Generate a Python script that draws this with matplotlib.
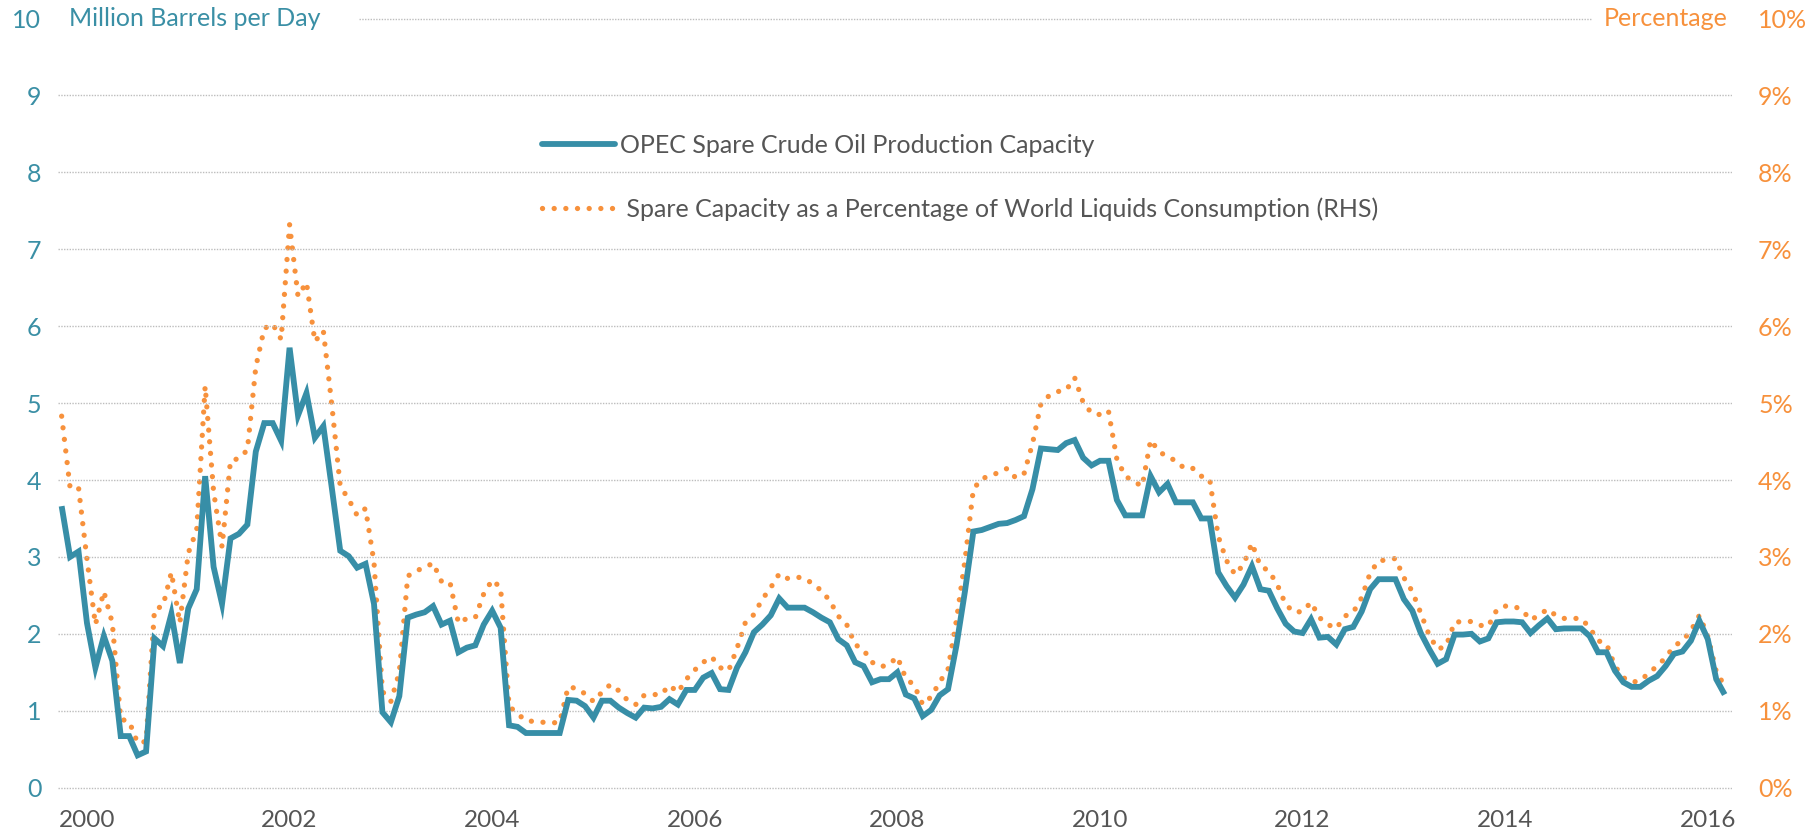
import matplotlib
matplotlib.use("Agg")
import matplotlib.pyplot as plt
from matplotlib.lines import Line2D
import numpy as np
import pandas as pd

# ---------------- data (monthly, Oct 1999 - Mar 2016) ----------------
start_month = "1999-10-01"
spare_capacity_mbd = [
    3.66, 3.00, 3.07,                                                  # 1999 Q4
    2.14, 1.56, 1.97, 1.65, 0.67, 0.67, 0.42, 0.47, 1.94, 1.84, 2.26, 1.62,  # 2000
    2.33, 2.58, 4.05, 2.87, 2.39, 3.24, 3.30, 3.42, 4.37, 4.74, 4.74, 4.51,  # 2001
    5.72, 4.84, 5.13, 4.55, 4.70, 3.90, 3.08, 3.01, 2.86, 2.91, 2.39, 0.98,  # 2002
    0.85, 1.19, 2.21, 2.25, 2.28, 2.36, 2.12, 2.17, 1.76, 1.82, 1.85, 2.12,  # 2003
    2.30, 2.08, 0.81, 0.79, 0.71, 0.71, 0.71, 0.71, 0.71, 1.14, 1.13, 1.06,  # 2004
    0.91, 1.13, 1.13, 1.04, 0.97, 0.91, 1.04, 1.03, 1.05, 1.15, 1.08, 1.27,  # 2005
    1.27, 1.43, 1.49, 1.28, 1.27, 1.56, 1.76, 2.02, 2.12, 2.24, 2.46, 2.34,  # 2006
    2.34, 2.34, 2.28, 2.21, 2.15, 1.93, 1.85, 1.63, 1.58, 1.37, 1.41, 1.41,  # 2007
    1.50, 1.21, 1.16, 0.93, 1.01, 1.20, 1.28, 1.85, 2.55, 3.33, 3.35, 3.39,  # 2008
    3.43, 3.44, 3.48, 3.53, 3.88, 4.41, 4.40, 4.39, 4.48, 4.52, 4.29, 4.19,  # 2009
    4.25, 4.25, 3.74, 3.54, 3.54, 3.54, 4.05, 3.84, 3.95, 3.71, 3.71, 3.71,  # 2010
    3.50, 3.50, 2.80, 2.62, 2.47, 2.64, 2.88, 2.58, 2.56, 2.33, 2.13, 2.03,  # 2011
    2.01, 2.19, 1.95, 1.96, 1.86, 2.06, 2.09, 2.29, 2.58, 2.71, 2.71, 2.71,  # 2012
    2.45, 2.30, 2.01, 1.80, 1.61, 1.67, 1.99, 1.99, 2.00, 1.90, 1.94, 2.15,  # 2013
    2.16, 2.16, 2.15, 2.01, 2.11, 2.20, 2.06, 2.07, 2.07, 2.07, 1.97, 1.76,  # 2014
    1.76, 1.52, 1.37, 1.31, 1.31, 1.39, 1.45, 1.58, 1.74, 1.77, 1.91, 2.17,  # 2015
    1.93, 1.41, 1.21,                                                  # 2016
]
spare_pct_world = [
    4.83, 3.90, 3.90,
    2.97, 2.12, 2.55, 2.14, 0.89, 0.86, 0.58, 0.60, 2.32, 2.36, 2.80, 2.14,
    3.05, 3.35, 5.22, 3.85, 3.13, 4.25, 4.28, 4.39, 5.47, 5.97, 6.03, 5.83,
    7.32, 6.39, 6.57, 5.80, 5.94, 4.98, 3.92, 3.75, 3.54, 3.63, 2.93, 1.25,
    1.12, 1.50, 2.75, 2.82, 2.86, 2.92, 2.68, 2.67, 2.14, 2.20, 2.21, 2.52,
    2.70, 2.60, 1.06, 0.96, 0.87, 0.86, 0.85, 0.84, 0.85, 1.31, 1.29, 1.22,
    1.12, 1.24, 1.34, 1.26, 1.14, 1.08, 1.20, 1.21, 1.21, 1.33, 1.24, 1.41,
    1.53, 1.63, 1.70, 1.56, 1.52, 1.81, 2.15, 2.25, 2.45, 2.60, 2.78, 2.72,
    2.74, 2.72, 2.65, 2.56, 2.43, 2.23, 2.12, 1.86, 1.79, 1.63, 1.57, 1.60,
    1.70, 1.42, 1.33, 1.08, 1.18, 1.37, 1.54, 2.18, 2.95, 3.88, 4.02, 4.05,
    4.10, 4.15, 4.03, 4.08, 4.47, 4.99, 5.10, 5.15, 5.17, 5.33, 5.01, 4.87,
    4.85, 4.90, 4.27, 4.05, 3.98, 3.92, 4.52, 4.37, 4.30, 4.25, 4.15, 4.15,
    4.05, 4.01, 3.27, 2.95, 2.77, 2.90, 3.18, 2.88, 2.82, 2.64, 2.38, 2.28,
    2.29, 2.41, 2.21, 2.12, 2.07, 2.23, 2.28, 2.47, 2.79, 2.95, 2.96, 2.98,
    2.73, 2.55, 2.27, 1.98, 1.80, 1.84, 2.15, 2.16, 2.16, 2.11, 2.10, 2.31,
    2.36, 2.36, 2.31, 2.18, 2.24, 2.32, 2.24, 2.20, 2.20, 2.20, 2.08, 1.91,
    1.87, 1.58, 1.43, 1.37, 1.39, 1.49, 1.58, 1.69, 1.84, 1.91, 2.04, 2.24,
    1.97, 1.51, 1.32,
]
year_ticks = [2000, 2002, 2004, 2006, 2008, 2010, 2012, 2014, 2016]
left_ticks = list(range(0, 11))
right_tick_labels = [f"{v}%" for v in range(0, 11)]
series_labels = ["OPEC Spare Crude Oil Production Capacity",
                 " Spare Capacity as a Percentage of World Liquids Consumption (RHS)"]
left_title = "Million Barrels per Day"
right_title = "Percentage"

# ---------------- style ----------------
BLUE = "#378EA7"
TEAL_TXT = "#3A8FA5"
ORANGE = "#F7913C"
GRAY_TXT = "#555555"
GRID = "#BDBDBD"
FONT = "Lato"
FS = 18

plt.rcParams["font.family"] = [FONT, "DejaVu Sans"]

dates = pd.date_range(start_month, periods=len(spare_capacity_mbd), freq="MS")
x = dates.year + (dates.month - 1) / 12.0

W, H = 1816, 831
fig = plt.figure(figsize=(W / 100, H / 100), dpi=100)
fig.patch.set_facecolor("white")

left_px, right_px = 58, 1731.7
bottom_px, top_px = 795.3, 10.9
ax = fig.add_axes([left_px / W, 1 - bottom_px / H,
                   (right_px - left_px) / W, (bottom_px - top_px) / H])
ax2 = ax.twinx()

ax.set_xlim(1999.714, 2016.236)
ax.set_ylim(-0.1, 10.1)
ax2.set_ylim(-0.1, 10.1)

for a in (ax, ax2):
    for s in a.spines.values():
        s.set_visible(False)
ax.patch.set_visible(False)

# grid
ax.set_yticks(left_ticks)
ax.set_yticklabels([str(v) for v in left_ticks])
ax.yaxis.grid(True, color=GRID, linestyle=(0, (1, 1)), linewidth=1.0)
ax.xaxis.grid(False)
ax.set_axisbelow(True)
ax.get_ygridlines()[-1].set_visible(False)
ax.axhline(10, xmin=(359 - left_px) / (right_px - left_px),
           xmax=(1592 - left_px) / (right_px - left_px),
           color=GRID, linestyle=(0, (1, 1)), linewidth=1.0, zorder=0)

ax.tick_params(axis="y", length=0, pad=12, labelsize=FS, labelcolor=TEAL_TXT)
ax2.set_yticks(left_ticks)
ax2.set_yticklabels(right_tick_labels)
ax2.tick_params(axis="y", length=0, pad=19, labelsize=FS, labelcolor=ORANGE)

ax.set_xticks(year_ticks)
ax.set_xticklabels([str(y) for y in year_ticks])
ax.tick_params(axis="x", length=0, pad=10.5, labelsize=FS - 0.5, labelcolor=GRAY_TXT)

# series
DOT_LW = 3.8
DOT_STYLE = (0, (0.01, 2.2))
l2, = ax2.plot(x, spare_pct_world, color=ORANGE, linewidth=DOT_LW,
               linestyle=DOT_STYLE, dash_capstyle="round", zorder=2)
l1, = ax.plot(x, spare_capacity_mbd, color=BLUE, linewidth=4.2,
              solid_joinstyle="miter", solid_capstyle="butt", zorder=3)
ax.set_zorder(2)

# axis titles
fig.text(69 / W, 1 - 18.5 / H, left_title, color=TEAL_TXT, fontsize=FS,
         ha="left", va="center")
fig.text(1728 / W, 1 - 18.5 / H, right_title, color=ORANGE, fontsize=FS,
         ha="right", va="center")

# legend
h1 = Line2D([], [], color=BLUE, linewidth=4.2, solid_capstyle="round")
h2 = Line2D([], [], color=ORANGE, linewidth=DOT_LW, linestyle=DOT_STYLE,
            dash_capstyle="round")
leg = ax.legend([h1, h2], series_labels, loc="upper left",
                bbox_to_anchor=(542 / W, 1 - 134 / H), bbox_transform=fig.transFigure,
                frameon=False, borderpad=0, borderaxespad=0, handlelength=2.9,
                handletextpad=0.22, labelspacing=1.6, fontsize=FS)
for t in leg.get_texts():
    t.set_color(GRAY_TXT)

fig.savefig("out.png", dpi=100, facecolor="white")
